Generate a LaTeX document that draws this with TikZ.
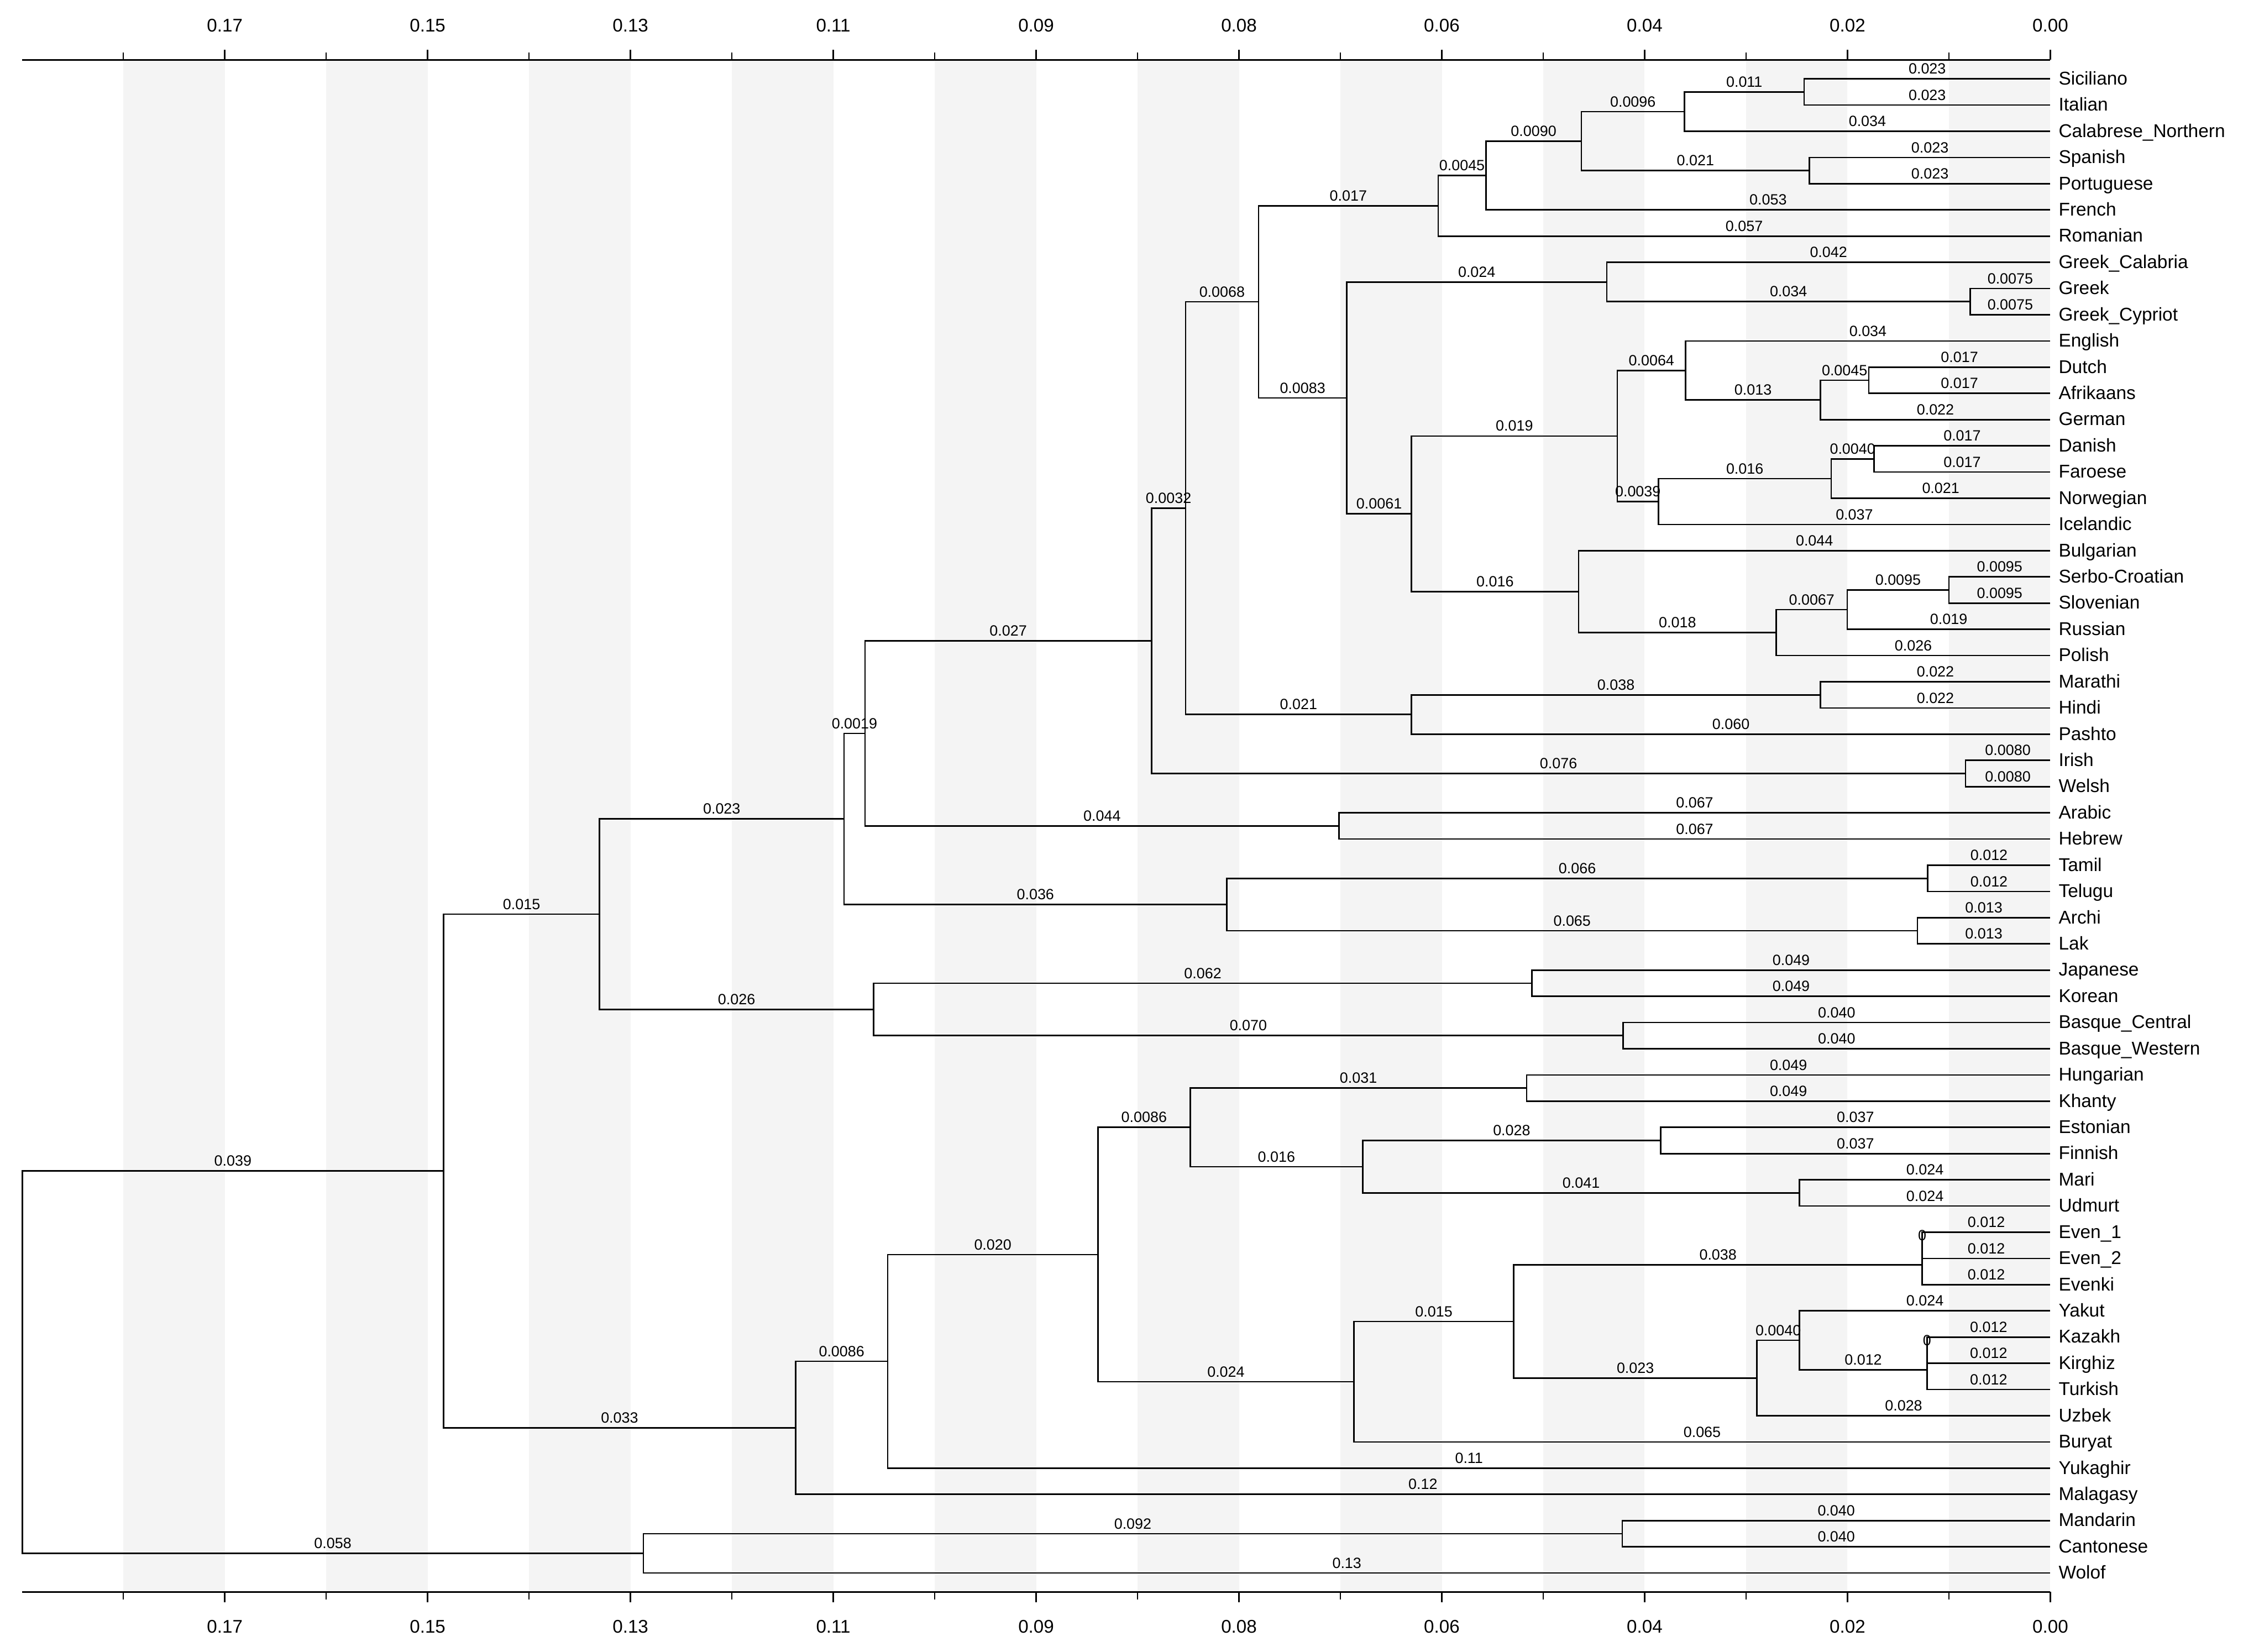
\documentclass[tikz,border=0pt]{standalone}
\usepackage{fontspec}
\setmainfont{Liberation Sans}
\usetikzlibrary{calc}
\definecolor{stripe}{HTML}{F4F4F4}
\newcommand{\clade}[4]{\path let \p1=(#3), \p2=(#4) in coordinate (#1) at (#2pt,{0.5*(\y1+\y2)});}

\begin{document}
\begin{tikzpicture}[x=1pt, y=-1pt, every node/.style={font=\fontsize{10.3}{12}\selectfont},
    branch/.style={line width=1pt},
    blab/.style={above=2.8pt, inner sep=0pt, pos=0.75},
    leaf/.style={anchor=west, font=\fontsize{12.8}{15}\selectfont, inner xsep=5.6pt, inner ysep=0pt, text height=8.2pt, text depth=0pt},
    scalelab/.style={anchor=base, inner sep=0pt, font=\fontsize{12.7}{15}\selectfont}]
  \fill[white] (0,0) rectangle (1568,1144);
  \useasboundingbox (0,0) rectangle (1568,1144);
  \foreach \k in {0,2,...,18}
    \fill[stripe] ({1420-70.24*(\k+1)},41.5) rectangle ({1420-70.24*\k},1102.6);
  \draw[line width=1pt] (15.3,41.5) -- (1420,41.5) (15.3,1102.6) -- (1420,1102.6);
  \foreach \k/\v in {0/0.00, 2/0.02, 4/0.04, 6/0.06, 8/0.08, 10/0.09, 12/0.11, 14/0.13, 16/0.15, 18/0.17}{
    \draw[line width=1pt] ({1420-70.24*\k},41.5) -- ++(0,-7) ({1420-70.24*\k},1102.6) -- ++(0,7);
    \node[scalelab] (top\k) at ({1420-70.24*\k},22) {\v};
    \node[scalelab] (bot\k) at ({1420-70.24*\k},1131) {\v};
  }
  \foreach \k in {1,3,...,19}
    \draw[line width=1pt] ({1420-70.24*\k},41.5) -- ++(0,-5.2) ({1420-70.24*\k},1102.6) -- ++(0,5.2);

  \foreach \nm/\txt [count=\i from 0] in {sic/Siciliano, ita/Italian, cal/Calabrese\_Northern, spa/Spanish, por/Portuguese,
      fre/French, rom/Romanian, gcal/Greek\_Calabria, gre/Greek, cyp/Greek\_Cypriot, eng/English, dut/Dutch, afr/Afrikaans,
      ger/German, dan/Danish, far/Faroese, nor/Norwegian, ice/Icelandic, bul/Bulgarian, srb/Serbo-Croatian, slo/Slovenian,
      rus/Russian, pol/Polish, mar/Marathi, hin/Hindi, pas/Pashto, iri/Irish, wel/Welsh, ara/Arabic, heb/Hebrew, tam/Tamil,
      tel/Telugu, arc/Archi, lak/Lak, jap/Japanese, kor/Korean, basc/Basque\_Central, basw/Basque\_Western, hun/Hungarian,
      kha/Khanty, est/Estonian, fin/Finnish, mari/Mari, udm/Udmurt, evo/Even\_1, evt/Even\_2, evk/Evenki, yak/Yakut,
      kaz/Kazakh, kir/Kirghiz, tur/Turkish, uzb/Uzbek, bur/Buryat, yuk/Yukaghir, mlg/Malagasy, man/Mandarin,
      can/Cantonese, wol/Wolof}
    \node[leaf] (\nm) at (1420,{54.6+18.156*\i}) {\txt};

  \clade{sicita}{1249.5}{sic}{ita}
  \clade{italo}{1166.6}{sicita}{cal}
  \clade{ibero}{1253.2}{spa}{por}
  \clade{wrom}{1095.2}{italo}{ibero}
  \clade{galrom}{1029.1}{wrom}{fre}
  \clade{romance}{996.0}{galrom}{rom}
  \clade{grcy}{1364.5}{gre}{cyp}
  \clade{greek}{1112.8}{gcal}{grcy}
  \clade{dutaf}{1294.2}{dut}{afr}
  \clade{contw}{1260.8}{dutaf}{ger}
  \clade{westg}{1167.4}{eng}{contw}
  \clade{danfar}{1297.9}{dan}{far}
  \clade{westn}{1268.2}{danfar}{nor}
  \clade{nordic}{1148.6}{westn}{ice}
  \clade{germanic}{1120.1}{westg}{nordic}
  \clade{serbslo}{1349.8}{srb}{slo}
  \clade{sslav}{1279.3}{serbslo}{rus}
  \clade{slavb}{1230.2}{sslav}{pol}
  \clade{slavic}{1093.3}{bul}{slavb}
  \clade{gerslav}{977.6}{germanic}{slavic}
  \clade{grgs}{932.7}{greek}{gerslav}
  \clade{euro}{871.6}{romance}{grgs}
  \clade{indic}{1260.8}{mar}{hin}
  \clade{indoir}{977.6}{indic}{pas}
  \clade{ieA}{821.1}{euro}{indoir}
  \clade{celtic}{1361.2}{iri}{wel}
  \clade{ie}{797.5}{ieA}{celtic}
  \clade{semitic}{927.4}{ara}{heb}
  \clade{ieafro}{599.1}{ie}{semitic}
  \clade{dravid}{1335.1}{tam}{tel}
  \clade{lezgic}{1327.9}{arc}{lak}
  \clade{south}{849.7}{dravid}{lezgic}
  \clade{core}{584.5}{ieafro}{south}
  \clade{japko}{1061.0}{jap}{kor}
  \clade{basque}{1124.0}{basc}{basw}
  \clade{isol}{605.1}{japko}{basque}
  \clade{west}{415.2}{core}{isol}
  \clade{ugric}{1057.3}{hun}{kha}
  \clade{finnic}{1150.1}{est}{fin}
  \clade{permic}{1246.3}{mari}{udm}
  \clade{finperm}{943.8}{finnic}{permic}
  \clade{uralic}{824.3}{ugric}{finperm}
  \clade{even}{1331.3}{evo}{evt}
  \clade{tungus}{1331.3}{even}{evk}
  \clade{kazkir}{1334.6}{kaz}{kir}
  \clade{kipchak}{1334.6}{kazkir}{tur}
  \clade{turkyak}{1246.3}{yak}{kipchak}
  \clade{turkic}{1216.8}{turkyak}{uzb}
  \clade{tungturk}{1048.4}{tungus}{turkic}
  \clade{altaic}{937.7}{tungturk}{bur}
  \clade{uralalt}{760.4}{uralic}{altaic}
  \clade{north}{614.8}{uralalt}{yuk}
  \clade{east}{551.0}{north}{mlg}
  \clade{main}{307.2}{west}{east}
  \clade{sinitic}{1123.5}{man}{can}
  \clade{sinwol}{445.6}{sinitic}{wol}
  \clade{root}{15.4}{main}{sinwol}

  \foreach \p/\c/\l in {sicita/sic/0.023, sicita/ita/0.023, italo/sicita/0.011, italo/cal/0.034, ibero/spa/0.023,
      ibero/por/0.023, wrom/italo/0.0096, wrom/ibero/0.021, galrom/wrom/0.0090, galrom/fre/0.053, romance/galrom/0.0045,
      romance/rom/0.057, grcy/gre/0.0075, grcy/cyp/0.0075, greek/gcal/0.042, greek/grcy/0.034, dutaf/dut/0.017,
      dutaf/afr/0.017, contw/dutaf/0.0045, contw/ger/0.022, westg/eng/0.034, westg/contw/0.013, danfar/dan/0.017,
      danfar/far/0.017, westn/danfar/0.0040, westn/nor/0.021, nordic/westn/0.016, nordic/ice/0.037,
      germanic/westg/0.0064, germanic/nordic/0.0039, serbslo/srb/0.0095, serbslo/slo/0.0095, sslav/serbslo/0.0095,
      sslav/rus/0.019, slavb/sslav/0.0067, slavb/pol/0.026, slavic/bul/0.044, slavic/slavb/0.018,
      gerslav/germanic/0.019, gerslav/slavic/0.016, grgs/greek/0.024, grgs/gerslav/0.0061, euro/romance/0.017,
      euro/grgs/0.0083, indic/mar/0.022, indic/hin/0.022, indoir/indic/0.038, indoir/pas/0.060, ieA/euro/0.0068,
      ieA/indoir/0.021, celtic/iri/0.0080, celtic/wel/0.0080, ie/ieA/0.0032, ie/celtic/0.076, semitic/ara/0.067,
      semitic/heb/0.067, ieafro/ie/0.027, ieafro/semitic/0.044, dravid/tam/0.012, dravid/tel/0.012, lezgic/arc/0.013,
      lezgic/lak/0.013, south/dravid/0.066, south/lezgic/0.065, core/ieafro/0.0019, core/south/0.036,
      japko/jap/0.049, japko/kor/0.049, basque/basc/0.040, basque/basw/0.040, isol/japko/0.062, isol/basque/0.070,
      west/core/0.023, west/isol/0.026, ugric/hun/0.049, ugric/kha/0.049, finnic/est/0.037, finnic/fin/0.037,
      permic/mari/0.024, permic/udm/0.024, finperm/finnic/0.028, finperm/permic/0.041, uralic/ugric/0.031,
      uralic/finperm/0.016, even/evo/0.012, even/evt/0.012, tungus/even/0, tungus/evk/0.012, kazkir/kaz/0.012,
      kazkir/kir/0.012, kipchak/kazkir/0, kipchak/tur/0.012, turkyak/yak/0.024, turkyak/kipchak/0.012,
      turkic/turkyak/0.0040, turkic/uzb/0.028, tungturk/tungus/0.038, tungturk/turkic/0.023, altaic/tungturk/0.015,
      altaic/bur/0.065, uralalt/uralic/0.0086, uralalt/altaic/0.024, north/uralalt/0.020, north/yuk/0.11,
      east/north/0.0086, east/mlg/0.12, main/west/0.015, main/east/0.033, sinitic/man/0.040, sinitic/can/0.040,
      sinwol/sinitic/0.092, sinwol/wol/0.13, root/main/0.039, root/sinwol/0.058}
    \draw[branch] (\p) |- node[blab] (l-\c) {\l} (\c);
\end{tikzpicture}
\end{document}
